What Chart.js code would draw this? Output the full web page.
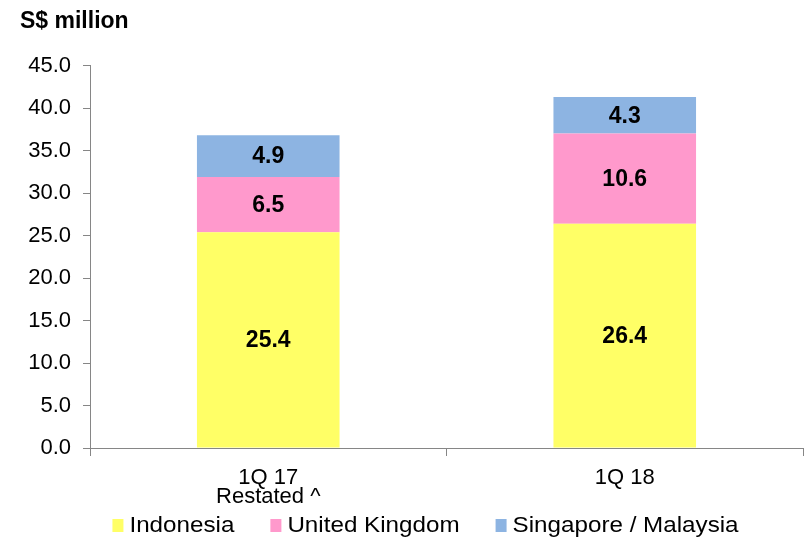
<!DOCTYPE html>
<html>
<head>
<meta charset="utf-8">
<script src="https://cdn.jsdelivr.net/npm/chart.js@4.4.1/dist/chart.umd.min.js"></script>
<style>
  html, body { margin: 0; padding: 0; background: #fff; }
  #wrap { width: 811px; height: 539px; }
</style>
</head>
<body>
<div id="wrap"><canvas id="revenueChart" width="811" height="539"></canvas></div>
<script>
const categories = [["1Q 17", "Restated ^"], "1Q 18"];
const indonesia = [25.4, 26.4];
const unitedKingdom = [6.5, 10.6];
const singaporeMalaysia = [4.9, 4.3];
const yTicks = [0, 5, 10, 15, 20, 25, 30, 35, 40, 45];

const FONT = "'Liberation Sans', Arial, sans-serif";
const AXIS_GREY = "#868686";

// writes each segment's value in bold in the middle of its bar piece
const segmentLabels = {
  id: "segmentLabels",
  afterDatasetsDraw(chart) {
    const { ctx } = chart;
    ctx.save();
    ctx.font = `bold 23px ${FONT}`;
    ctx.fillStyle = "#000";
    ctx.textAlign = "center";
    ctx.textBaseline = "middle";
    chart.data.datasets.forEach((ds, i) => {
      chart.getDatasetMeta(i).data.forEach((bar, j) => {
        const mid = (bar.y + bar.base) / 2;
        ctx.fillText(ds.data[j].toFixed(1), bar.x, mid + 1);
      });
    });
    ctx.restore();
  }
};

// one-row legend under the axis, slightly widened text, wide gaps between entries
const bottomLegend = {
  id: "bottomLegend",
  afterDraw(chart) {
    const { ctx } = chart;
    const gap = 36, box = 11, textGap = 6, stretch = 1.1;
    ctx.save();
    ctx.font = `22px ${FONT}`;
    ctx.textBaseline = "middle";
    const items = chart.data.datasets.map(ds => ({
      text: ds.label, color: ds.backgroundColor, w: ctx.measureText(ds.label).width * stretch
    }));
    const total = items.reduce((s, it) => s + box + textGap + it.w, 0) + gap * (items.length - 1);
    let x = (chart.width - total) / 2 + 20;
    const y = 525;
    items.forEach(it => {
      ctx.fillStyle = it.color;
      ctx.fillRect(x, y - 6, box, 13);
      ctx.fillStyle = "#000";
      ctx.save();
      ctx.translate(x + box + textGap, y + 1);
      ctx.scale(stretch, 1);
      ctx.fillText(it.text, 0, 0);
      ctx.restore();
      x += box + textGap + it.w + gap;
    });
    ctx.restore();
  }
};

new Chart(document.getElementById("revenueChart"), {
  type: "bar",
  data: {
    labels: categories,
    datasets: [
      { label: "Indonesia", data: indonesia, backgroundColor: "#FFFF66" },
      { label: "United Kingdom", data: unitedKingdom, backgroundColor: "#FF99CC" },
      { label: "Singapore / Malaysia", data: singaporeMalaysia, backgroundColor: "#8DB4E2" }
    ]
  },
  options: {
    responsive: false,
    animation: false,
    layout: { padding: { left: 20, right: 8, top: 8, bottom: 29 } },
    datasets: { bar: { categoryPercentage: 0.8, barPercentage: 0.5, borderWidth: 0 } },
    plugins: {
      title: {
        display: true,
        text: "S$ million",
        align: "start",
        color: "#000",
        font: { family: FONT, size: 23, weight: "bold" },
        padding: { top: 0, bottom: 30 }
      },
      legend: { display: false },
      tooltip: { enabled: false }
    },
    scales: {
      x: {
        stacked: true,
        border: { color: AXIS_GREY, width: 1 },
        grid: { drawOnChartArea: false, drawTicks: true, tickLength: 8, color: AXIS_GREY, offset: true },
        ticks: { color: "#000", font: { family: FONT, size: 22, lineHeight: 0.88 }, padding: 12 },
        afterFit(scale) { scale.height = 62; }
      },
      y: {
        stacked: true,
        min: 0,
        max: 45,
        afterBuildTicks(scale) { scale.ticks = yTicks.map(v => ({ value: v })); },
        border: { color: AXIS_GREY, width: 1 },
        grid: { drawOnChartArea: false, drawTicks: true, tickLength: 7, color: AXIS_GREY },
        ticks: {
          color: "#000",
          font: { family: FONT, size: 22 },
          padding: 12,
          callback: v => v.toFixed(1)
        },
        afterFit(scale) { scale.width = 70; }
      }
    }
  },
  plugins: [segmentLabels, bottomLegend]
});
</script>
</body>
</html>
